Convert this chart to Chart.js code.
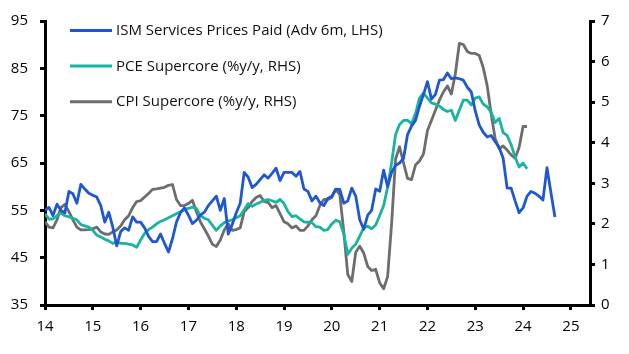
<!DOCTYPE html>
<html>
<head>
<meta charset="utf-8">
<script src="https://cdn.jsdelivr.net/npm/chart.js@4.4.1/dist/chart.umd.min.js"></script>
<style>
  html, body { margin: 0; padding: 0; background: #fff; }
  #wrap { width: 629px; height: 354px; }
</style>
</head>
<body>
<div id="wrap"><canvas id="chart" width="629" height="354"></canvas></div>
<script>
// monthly series starting Jan 2014 (x axis in two-digit years)
const startYear = 14;
const xTicks = [14, 15, 16, 17, 18, 19, 20, 21, 22, 23, 24, 25];
const leftTicks = [35, 45, 55, 65, 75, 85, 95];
const rightTicks = [0, 1, 2, 3, 4, 5, 6, 7];

const seriesNames = [
    'ISM Services Prices Paid (Adv 6m, LHS)',
    'PCE Supercore (%y/y, RHS)',
    'CPI Supercore (%y/y, RHS)'
];

// ISM services prices paid, advanced 6 months (LHS)
const ismPrices = [
    55, 55.6, 53.9, 56.3, 55, 54.5, 59, 58.5, 56.5, 60.5, 59.5, 58.6,
    58.2, 57.8, 56, 52.5, 54.6, 51.5, 47.5, 50.5, 51.3, 50.8, 53.6, 52.5,
    52.5, 51.3, 49.5, 48.4, 48.4, 50, 48, 46.2, 49, 52.5, 54.5, 55.5,
    54, 52.2, 52.9, 54, 54.6, 56, 57, 58, 55, 57.5, 50, 52,
    54.5, 56.5, 63, 62, 59.8, 60.5, 61.5, 62.5, 61.8, 62.8, 63.9, 61.3,
    63, 63, 63, 62.2, 63.2, 59.5, 59, 57, 58, 56.6, 56, 57.5,
    58, 59.5, 59.4, 56.5, 57, 59.7, 58, 53, 51, 54, 55, 59.5,
    59, 63.5, 60, 63, 64.5, 65, 66, 71, 72.8, 74, 77, 79.5,
    82.2, 78.5, 79.5, 82.5, 82.6, 84, 82.8, 83, 82.8, 82.5, 81, 80,
    76, 73, 71.5, 70.5, 70.8, 69.5, 68.3, 66, 59.7, 59.7, 57, 54.5,
    55.5, 58, 59, 58.6, 58, 57.2, 64, 58.7, 53.6
];

// PCE supercore, % y/y (RHS)
const pceSupercore = [
    2.24, 2.12, 2.12, 2.2, 2.27, 2.2, 2.17, 2.14, 2.1, 1.98, 1.95, 1.92,
    1.84, 1.72, 1.68, 1.62, 1.58, 1.52, 1.55, 1.52, 1.52, 1.5, 1.48, 1.42,
    1.6, 1.76, 1.86, 1.92, 2.0, 2.06, 2.1, 2.15, 2.2, 2.25, 2.3, 2.35,
    2.38, 2.41, 2.38, 2.2, 2.14, 2.1, 1.97, 1.84, 1.95, 2.03, 2.07, 2.1,
    2.15, 2.2, 2.35, 2.5, 2.43, 2.49, 2.53, 2.58, 2.6, 2.57, 2.53, 2.6,
    2.5, 2.3, 2.18, 2.2, 2.12, 2.05, 2.04, 2.03, 1.93, 1.92, 1.84, 1.86,
    2.0, 2.09, 2.05, 1.75, 1.25, 1.4, 1.5, 1.7, 1.9, 1.94, 1.88, 1.97,
    2.2, 2.45, 2.9, 3.5, 4.2, 4.45, 4.55, 4.55, 4.47, 4.72, 5.1, 5.22,
    5.1, 4.98, 4.95, 4.9, 4.82, 4.77, 4.8, 4.55, 4.8, 5.05, 5.05, 4.93,
    5.1, 5.13, 4.95, 4.88, 4.75, 4.5, 4.6, 4.25, 4.18, 3.95, 3.65, 3.4,
    3.5, 3.36
];

// CPI supercore, % y/y (RHS)
const cpiSupercore = [
    2.05, 1.92, 1.9, 2.1, 2.4, 2.48, 2.3, 2.1, 1.92, 1.85, 1.85, 1.86,
    1.88, 1.92, 1.8, 1.75, 1.74, 1.8, 1.85, 1.95, 2.1, 2.2, 2.4, 2.55,
    2.57, 2.66, 2.75, 2.85, 2.86, 2.88, 2.9, 2.95, 2.97, 2.6, 2.45, 2.45,
    2.5, 2.58, 2.3, 2.05, 1.88, 1.7, 1.5, 1.44, 1.6, 1.85, 2.0, 1.84,
    1.86, 1.9, 2.3, 2.4, 2.55, 2.65, 2.7, 2.55, 2.53, 2.4, 2.45, 2.25,
    2.05, 2.0, 1.9, 1.95, 1.84, 1.84, 1.95, 2.1, 2.2, 2.45, 2.6, 2.6,
    2.65, 2.85, 2.72, 1.8, 0.75, 0.58, 1.3, 1.45, 1.28, 0.95, 0.85, 0.88,
    0.55, 0.4, 0.7, 2.0, 3.6, 3.9, 3.5, 3.12, 3.09, 3.45, 3.55, 3.72,
    4.3, 4.55, 4.8, 5.05, 5.25, 5.4, 5.2, 5.7, 6.45, 6.42, 6.25, 6.2,
    6.2, 6.15, 5.85, 5.4, 4.7, 4.1, 3.85, 3.92, 3.82, 3.7, 3.62, 3.88,
    4.4, 4.4
];

function toPoints(values) {
    return values.map((v, i) => ({ x: startYear + i / 12, y: v }));
}

const fontFamily = '"Open Sans", "Noto Sans", sans-serif';

// legend drawn inside the plot, top left
const legendBox = {
    id: 'legendBox',
    afterDraw(chart) {
        const ctx = chart.ctx;
        ctx.save();
        chart.data.datasets.forEach((ds, i) => {
            const y = 30.5 + i * 35.6;
            ctx.strokeStyle = ds.borderColor;
            ctx.lineWidth = 3;
            ctx.beginPath();
            ctx.moveTo(70, y);
            ctx.lineTo(112, y);
            ctx.stroke();
            ctx.fillStyle = '#111';
            ctx.font = '15px ' + fontFamily;
            ctx.textBaseline = 'middle';
            ctx.fillText(ds.label, 116, y + 0.5);
        });
        ctx.restore();
    }
};

const axisGrid = { drawOnChartArea: false, color: '#000', lineWidth: 3, tickLength: 5 };
const axisBorder = { color: '#000', width: 3 };
const tickFont = { family: fontFamily, size: 15 };

const ctx = document.getElementById('chart').getContext('2d');
new Chart(ctx, {
    type: 'line',
    data: {
        datasets: [
            {
                label: seriesNames[0],
                data: toPoints(ismPrices),
                yAxisID: 'yL',
                borderColor: '#1f57d3',
                borderWidth: 2.8
            },
            {
                label: seriesNames[1],
                data: toPoints(pceSupercore),
                yAxisID: 'yR',
                borderColor: '#17b5a0',
                borderWidth: 2.8
            },
            {
                label: seriesNames[2],
                data: toPoints(cpiSupercore),
                yAxisID: 'yR',
                borderColor: '#6d6d6d',
                borderWidth: 2.8
            }
        ]
    },
    options: {
        responsive: false,
        animation: false,
        layout: { padding: { top: 14, left: 0, right: 0, bottom: 0 } },
        elements: {
            point: { radius: 0 },
            line: { tension: 0, borderJoinStyle: 'round' }
        },
        plugins: {
            legend: { display: false },
            tooltip: { enabled: false }
        },
        scales: {
            x: {
                type: 'linear',
                min: 14,
                max: 25.4,
                grid: axisGrid,
                border: axisBorder,
                afterBuildTicks: (axis) => { axis.ticks = xTicks.map(v => ({ value: v })); },
                afterFit: (axis) => { axis.height = 49; },
                ticks: { color: '#000', font: tickFont, padding: 8, maxRotation: 0, callback: (v) => v }
            },
            yL: {
                position: 'left',
                min: 35,
                max: 95,
                grid: axisGrid,
                border: axisBorder,
                afterBuildTicks: (axis) => { axis.ticks = leftTicks.map(v => ({ value: v })); },
                afterFit: (axis) => { axis.width = 45; },
                ticks: { color: '#000', font: tickFont, padding: 12 }
            },
            yR: {
                position: 'right',
                min: 0,
                max: 7,
                grid: axisGrid,
                border: axisBorder,
                afterBuildTicks: (axis) => { axis.ticks = rightTicks.map(v => ({ value: v })); },
                afterFit: (axis) => { axis.width = 39; },
                ticks: { color: '#000', font: tickFont, padding: 6 }
            }
        }
    },
    plugins: [legendBox]
});
</script>
</body>
</html>
